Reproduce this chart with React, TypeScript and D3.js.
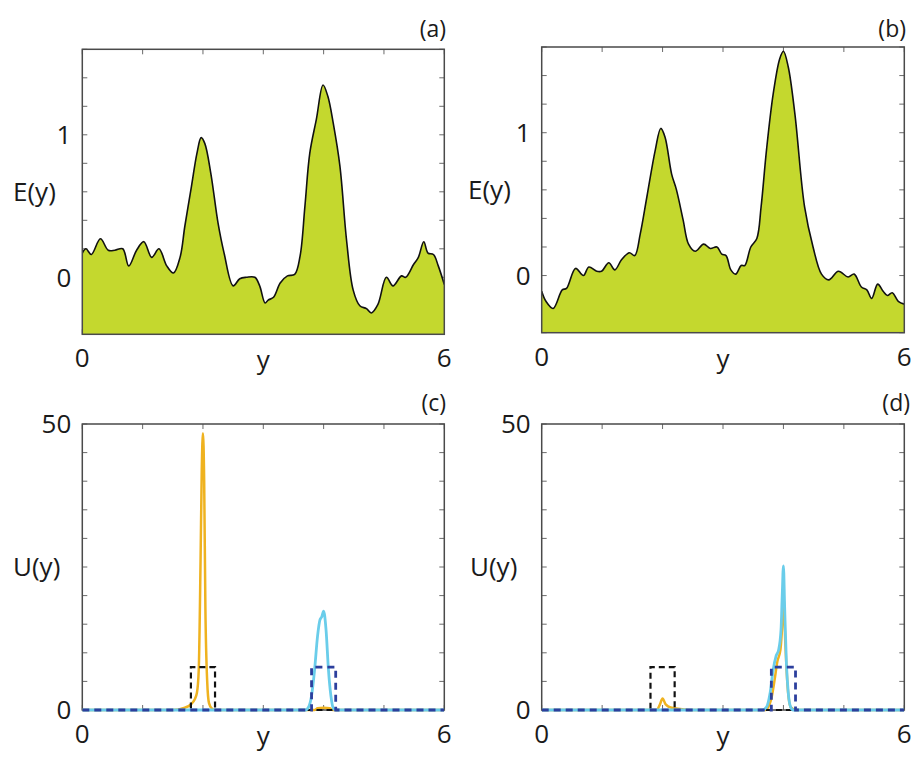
import React from "react";
import * as d3 from "d3";

// ---------- data ----------
const EA_X = [0, 0.06, 0.15, 0.3, 0.43, 0.54, 0.67, 0.77, 0.9, 1.02, 1.15, 1.27, 1.4, 1.51, 1.62, 1.7, 1.81, 1.9, 1.97, 2.03, 2.13, 2.25, 2.35, 2.5, 2.61, 2.72, 2.86, 2.94, 3.03, 3.08, 3.17, 3.28, 3.4, 3.52, 3.61, 3.69, 3.77, 3.88, 3.99, 4.07, 4.16, 4.27, 4.38, 4.49, 4.6, 4.71, 4.79, 4.9, 5.04, 5.15, 5.29, 5.36, 5.49, 5.57, 5.66, 5.73, 5.82, 5.9, 6.0];
const EA_Y = [0.17, 0.2, 0.16, 0.27, 0.19, 0.19, 0.2, 0.08, 0.19, 0.25, 0.14, 0.2, 0.08, 0.03, 0.14, 0.36, 0.64, 0.87, 0.98, 0.94, 0.73, 0.38, 0.17, -0.06, -0.01, 0.0, 0.0, -0.06, -0.18, -0.16, -0.14, -0.04, 0.01, 0.02, 0.15, 0.5, 0.87, 1.11, 1.35, 1.27, 1.08, 0.78, 0.26, -0.09, -0.2, -0.22, -0.25, -0.19, 0.0, -0.06, 0.01, 0.0, 0.09, 0.14, 0.25, 0.17, 0.16, 0.08, -0.05];

const EB_X = [0, 0.07, 0.19, 0.34, 0.41, 0.56, 0.69, 0.78, 0.91, 0.99, 1.11, 1.21, 1.32, 1.45, 1.54, 1.63, 1.74, 1.88, 1.97, 2.04, 2.15, 2.23, 2.34, 2.43, 2.54, 2.68, 2.79, 2.9, 2.98, 3.05, 3.13, 3.21, 3.3, 3.36, 3.46, 3.56, 3.63, 3.72, 3.83, 3.94, 4.0, 4.08, 4.19, 4.35, 4.49, 4.63, 4.75, 4.91, 5.07, 5.17, 5.29, 5.38, 5.46, 5.56, 5.65, 5.72, 5.8, 5.9, 6.0];
const EB_Y = [-0.11, -0.18, -0.23, -0.1, -0.09, 0.05, 0.0, 0.06, 0.03, 0.03, 0.09, 0.04, 0.11, 0.16, 0.14, 0.29, 0.55, 0.88, 1.03, 0.97, 0.71, 0.6, 0.39, 0.22, 0.17, 0.22, 0.19, 0.2, 0.15, 0.14, 0.04, 0.01, 0.07, 0.07, 0.2, 0.26, 0.48, 0.88, 1.27, 1.52, 1.57, 1.46, 1.13, 0.48, 0.2, 0.01, -0.03, 0.03, -0.01, 0.01, -0.08, -0.1, -0.16, -0.06, -0.11, -0.14, -0.12, -0.18, -0.2];

const UC_ORANGE_X = [0, 1.5, 1.7, 1.8, 1.86, 1.9, 1.93, 1.96, 1.98, 2.0, 2.02, 2.04, 2.07, 2.1, 2.15, 2.2, 3.85, 3.9, 4.0, 4.1, 4.15, 6];
const UC_ORANGE = [0, 0, 0.4, 1.0, 1.8, 3, 7, 26, 42, 48.4, 40, 18, 5, 1.2, 0.2, 0, 0, 0.3, 0.4, 0.3, 0, 0];
const UC_CYAN_X = [0, 3.7, 3.75, 3.8, 3.85, 3.9, 3.94, 3.97, 4.0, 4.04, 4.08, 4.12, 4.16, 4.2, 6];
const UC_CYAN = [0, 0, 0.5, 2.5, 7, 13, 15.8, 16.3, 17.3, 14, 7, 2.5, 0.3, 0, 0];

const UD_ORANGE_X = [0, 1.9, 1.95, 2.0, 2.05, 2.1, 2.2, 2.35, 2.5, 3.7, 3.8, 3.85, 3.9, 3.95, 3.98, 4.0, 4.03, 4.07, 4.12, 4.2, 6];
const UD_ORANGE = [0, 0, 0.8, 2.0, 1.0, 0.6, 0.3, 0.1, 0, 0, 2, 5, 8.5, 10.5, 15, 20, 12, 4, 0.5, 0, 0];
const UD_CYAN_X = [0, 3.65, 3.72, 3.78, 3.83, 3.88, 3.92, 3.96, 3.98, 4.0, 4.02, 4.05, 4.08, 4.12, 4.16, 6];
const UD_CYAN = [0, 0, 0.5, 3, 7, 9.5, 10.5, 14, 20, 25.2, 18, 8, 3, 0.5, 0, 0];

const V1_X = [0, 1.8, 1.8, 2.2, 2.2, 6];
const V1 = [0, 0, 7.5, 7.5, 0, 0];
const V2_X = [0, 3.8, 3.8, 4.2, 4.2, 6];
const V2 = [0, 0, 7.5, 7.5, 0, 0];

const X_TICKS = [0, 1, 2, 3, 4, 5, 6];
const X_TICK_LABELS = [{ v: 0, t: "0" }, { v: 6, t: "6" }];
const E_TICKS = [-0.4, -0.2, 0, 0.2, 0.4, 0.6, 0.8, 1.0, 1.2, 1.4, 1.6];
const E_TICK_LABELS = [{ v: 0, t: "0" }, { v: 1, t: "1" }];
const U_TICKS = [0, 5, 10, 15, 20, 25, 30, 35, 40, 45, 50];
const U_TICK_LABELS = [{ v: 0, t: "0" }, { v: 50, t: "50" }];

// ---------- style ----------
const FONT = "'Open Sans', sans-serif";
const FILL = "#c4d82e";
const ORANGE = "#efb21f";
const CYAN = "#6acdea";
const BLUE = "#2c3f9d";
const FRAME = "#4a4a4a";
const TICK = "#6a6a6a";

type Box = { l: number; r: number; t: number; b: number };

function zip(xs: number[], ys: number[]): [number, number][] {
  return xs.map((x, i) => [x, ys[i]] as [number, number]);
}

function Axes({ box, yDomain, yTicks, yLabels, yTitle, yTitleX, tag, tagX, tagY, id, over, children }: any) {
  const xs = d3.scaleLinear().domain([0, 6]).range([box.l, box.r]);
  const ys = d3.scaleLinear().domain(yDomain).range([box.b, box.t]);
  const tl = 5;
  return (
    <g>
      <defs>
        <clipPath id={id}>
          <rect x={box.l} y={box.t - 2} width={box.r - box.l} height={box.b - box.t + 4} />
        </clipPath>
      </defs>
      {X_TICKS.map((v) => (
        <g key={"xt" + v}>
          <line x1={xs(v)} x2={xs(v)} y1={box.t} y2={box.t + tl} stroke={TICK} strokeWidth={1} />
          <line x1={xs(v)} x2={xs(v)} y1={box.b} y2={box.b - tl} stroke={TICK} strokeWidth={1} />
        </g>
      ))}
      {yTicks.map((v: number) => (
        <g key={"yt" + v}>
          <line x1={box.l} x2={box.l + tl} y1={ys(v)} y2={ys(v)} stroke={TICK} strokeWidth={1} />
          <line x1={box.r} x2={box.r - tl} y1={ys(v)} y2={ys(v)} stroke={TICK} strokeWidth={1} />
        </g>
      ))}
      {!over && <g clipPath={`url(#${id})`}>{children(xs, ys)}</g>}
      <rect x={box.l} y={box.t} width={box.r - box.l} height={box.b - box.t} fill="none" stroke={FRAME} strokeWidth={1.5} />
      {over && <g clipPath={`url(#${id})`}>{children(xs, ys)}</g>}
      {X_TICK_LABELS.map((d) => (
        <text key={"xl" + d.v} x={xs(d.v)} y={box.b + 33} textAnchor="middle" fontFamily={FONT} fontSize={26} fill="#1a1a1a">
          {d.t}
        </text>
      ))}
      {yLabels.map((d: any) => (
        <text key={"yl" + d.v} x={box.l - 11} y={ys(d.v)} dy="0.36em" textAnchor="end" fontFamily={FONT} fontSize={26} fill="#1a1a1a">
          {d.t}
        </text>
      ))}
      <text x={(box.l + box.r) / 2} y={box.b + 35} textAnchor="middle" fontFamily={FONT} fontSize={26} fill="#1a1a1a">
        y
      </text>
      <text x={yTitleX} y={(box.t + box.b) / 2} dy="0.36em" textAnchor="start" fontFamily={FONT} fontSize={26} fill="#1a1a1a">
        {yTitle}
      </text>
      <text x={tagX} y={tagY} dy="0.36em" textAnchor="end" fontFamily={FONT} fontSize={23} fill="#1a1a1a">
        {tag}
      </text>
    </g>
  );
}

function EPlot({ xsData, ysData }: { xsData: number[]; ysData: number[] }) {
  return (xs: any, ys: any) => {
    const pts = zip(xsData, ysData);
    const area = d3.area<[number, number]>()
      .x((d) => xs(d[0]))
      .y0(ys(-0.4))
      .y1((d) => ys(d[1]))
      .curve(d3.curveCatmullRom.alpha(0.5));
    const line = d3.line<[number, number]>()
      .x((d) => xs(d[0]))
      .y((d) => ys(d[1]))
      .curve(d3.curveCatmullRom.alpha(0.5));
    return (
      <g>
        <path d={area(pts) || ""} fill={FILL} stroke="none" />
        <path d={line(pts) || ""} fill="none" stroke="#111" strokeWidth={1.6} />
      </g>
    );
  };
}

function UPlot({ ox, oy, cx, cy }: any) {
  return (xs: any, ys: any) => {
    const line = d3.line<[number, number]>()
      .x((d) => xs(d[0]))
      .y((d) => ys(d[1]))
      .curve(d3.curveMonotoneX);
    const lin = d3.line<[number, number]>()
      .x((d) => xs(d[0]))
      .y((d) => ys(d[1]));
    return (
      <g>
        <path d={line(zip(ox, oy)) || ""} fill="none" stroke={ORANGE} strokeWidth={2.5} />
        <path d={lin(zip(V1_X, V1)) || ""} fill="none" stroke="#111" strokeWidth={2.2} strokeDasharray="6 4" />
        <path d={line(zip(cx, cy)) || ""} fill="none" stroke={CYAN} strokeWidth={2.8} />
        <path d={lin(zip(V2_X, V2)) || ""} fill="none" stroke={BLUE} strokeWidth={2.8} strokeDasharray="7 5" />
      </g>
    );
  };
}

export default function App() {
  const boxA: Box = { l: 82.3, r: 444.3, t: 49.3, b: 334.3 };
  const boxB: Box = { l: 541.7, r: 904.3, t: 47, b: 332.7 };
  const boxC: Box = { l: 82.3, r: 444.3, t: 424, b: 710 };
  const boxD: Box = { l: 541.7, r: 904.3, t: 424, b: 710 };
  return (
    <svg width={914} height={758} style={{ position: "absolute", left: 0, top: 0, background: "#fff" }}>
      <rect x={0} y={0} width={914} height={758} fill="#fff" />
      <Axes box={boxA} id="ca" yDomain={[-0.4, 1.6]} yTicks={E_TICKS} yLabels={E_TICK_LABELS} yTitle="E(y)" yTitleX={13} tag="(a)" tagX={446} tagY={29}>
        {EPlot({ xsData: EA_X, ysData: EA_Y })}
      </Axes>
      <Axes box={boxB} id="cb" yDomain={[-0.4, 1.6]} yTicks={E_TICKS} yLabels={E_TICK_LABELS} yTitle="E(y)" yTitleX={468} tag="(b)" tagX={906} tagY={29}>
        {EPlot({ xsData: EB_X, ysData: EB_Y })}
      </Axes>
      <Axes box={boxC} id="cc" over={true} yDomain={[0, 50]} yTicks={U_TICKS} yLabels={U_TICK_LABELS} yTitle="U(y)" yTitleX={13} tag="(c)" tagX={446} tagY={403}>
        {UPlot({ ox: UC_ORANGE_X, oy: UC_ORANGE, cx: UC_CYAN_X, cy: UC_CYAN })}
      </Axes>
      <Axes box={boxD} id="cd" over={true} yDomain={[0, 50]} yTicks={U_TICKS} yLabels={U_TICK_LABELS} yTitle="U(y)" yTitleX={470} tag="(d)" tagX={910} tagY={403}>
        {UPlot({ ox: UD_ORANGE_X, oy: UD_ORANGE, cx: UD_CYAN_X, cy: UD_CYAN })}
      </Axes>
    </svg>
  );
}
